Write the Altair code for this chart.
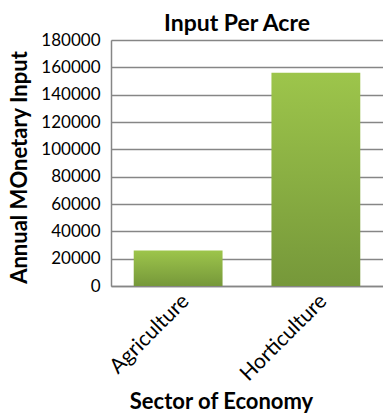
import altair as alt
import pandas as pd

sectors = ["Agriculture", "Horticulture"]
values = [26000, 156000]
y_ticks = [0, 20000, 40000, 60000, 80000, 100000, 120000, 140000, 160000, 180000]

df = pd.DataFrame({"sector": sectors, "value": values})

FONT = "Lato"

chart = alt.Chart(df).mark_bar(
    fill=alt.Gradient(
        gradient="linear",
        stops=[alt.GradientStop(color="#9dc54b", offset=0),
               alt.GradientStop(color="#76983a", offset=1)],
        x1=0, x2=0, y1=0, y2=1,
    )
).encode(
    x=alt.X("sector:N", sort=sectors,
            scale=alt.Scale(paddingInner=0.355, paddingOuter=0.165),
            axis=alt.Axis(title="Sector of Economy", labelAngle=-45, labelFontSize=21,
                          labelFont=FONT, labelColor="#000000", labelPadding=4,
                          ticks=False, domainColor="#868686", domainWidth=1.5,
                          titleFont=FONT, titleFontSize=22, titleFontWeight="bold",
                          titleColor="#000000", titleX=110, titleY=122,
                          titleBaseline="alphabetic", titleAlign="center")),
    y=alt.Y("value:Q", scale=alt.Scale(domain=[0, 180000], nice=False),
            axis=alt.Axis(title="Annual MOnetary Input", values=y_ticks, format="d",
                          labelFontSize=17, labelFont=FONT, labelColor="#000000",
                          labelPadding=11, ticks=False, domainColor="#868686",
                          domainWidth=1.5, gridColor="#868686", gridWidth=1.5,
                          titleFont=FONT, titleFontSize=22, titleFontWeight="bold",
                          titleColor="#000000", titleX=-92, titleY=127,
                          titleAngle=-90, titleBaseline="middle", titleAlign="center")),
).properties(
    width=272, height=246,
    title=alt.TitleParams("Input Per Acre", font=FONT, fontSize=23, fontWeight="bold",
                          color="#000000", anchor="middle", dx=-10, offset=0, dy=5),
    autosize=alt.AutoSizeParams(type="none"),
    padding={"left": 111, "top": 40, "right": 0, "bottom": 131},
).configure_view(stroke=None).configure(background="white")

chart.save("out.html", embed_options={"renderer": "svg", "actions": False})
